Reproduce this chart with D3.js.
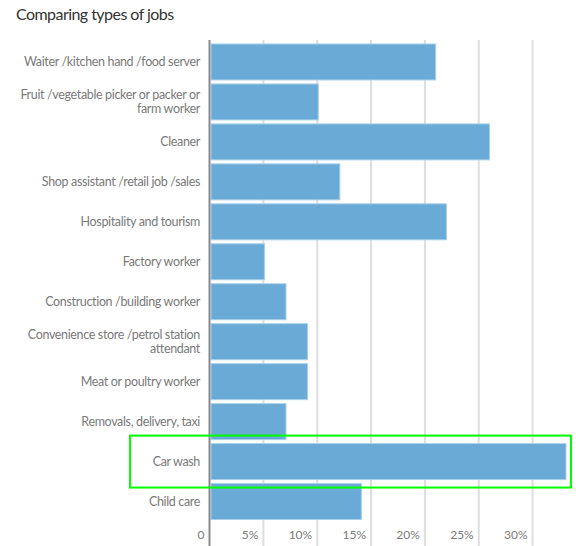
<!doctype html>
<html>
<head>
    <script src="https://d3js.org/d3.v7.min.js"></script>
    <style>
        body { margin: 0; background: #fff; }
        text { font-family: Lato, "Open Sans", sans-serif; }
        .bar { fill: #69abd6; stroke: #a8cfea; stroke-width: 1; }
        .label { fill: #7a7a7a; font-size: 12.5px; letter-spacing: -0.35px; }
        .tick-label { fill: #7a7a7a; font-size: 12px; }
        .grid { stroke: #dedede; stroke-width: 2; }
    </style>
</head>
<body>

    <svg width="579" height="546"></svg>

    <script>

        var jobs = [
            "Waiter /kitchen hand /food server",
            "Fruit /vegetable picker or packer or|farm worker",
            "Cleaner",
            "Shop assistant /retail job /sales",
            "Hospitality and tourism",
            "Factory worker",
            "Construction /building worker",
            "Convenience store /petrol station|attendant",
            "Meat or poultry worker",
            "Removals, delivery, taxi",
            "Car wash",
            "Child care"
        ];
        var percent = [21.0, 10.1, 26.0, 12.1, 22.0, 5.1, 7.1, 9.1, 9.1, 7.1, 33.1, 14.1];
        var tickValues = [0, 5, 10, 15, 20, 25, 30];
        var highlighted = "Car wash";

        var svg = d3.select("svg");
        var plotLeft = 209.5, plotRight = 566, plotTop = 40, plotBottom = 546;

        svg.append("text")
            .attr("x", 16)
            .attr("y", 19.5)
            .attr("font-size", "16px")
            .attr("letter-spacing", "-0.55px")
            .attr("fill", "#333")
            .text("Comparing types of jobs");

        var x = d3.scaleLinear().domain([0, d3.max(percent)]).range([plotLeft, plotRight]);
        var y = d3.scaleBand().domain(jobs).range([plotTop, 523.5]).paddingInner(0.1).paddingOuter(0.1);

        // gridlines
        svg.selectAll(".grid")
            .data(tickValues.slice(1))
            .enter().append("line")
            .attr("class", "grid")
            .attr("x1", function(d) { return x(d); })
            .attr("x2", function(d) { return x(d); })
            .attr("y1", plotTop)
            .attr("y2", plotBottom);

        // tick labels, right-aligned just left of each gridline
        svg.selectAll(".tick-label")
            .data(tickValues)
            .enter().append("text")
            .attr("class", "tick-label")
            .attr("x", function(d) { return x(d) - 5; })
            .attr("y", 539)
            .attr("text-anchor", "end")
            .text(function(d) { return d === 0 ? "0" : d + "%"; });

        svg.selectAll(".bar")
            .data(jobs)
            .enter().append("rect")
            .attr("class", "bar")
            .attr("x", x(0) + 1.5)
            .attr("y", function(d) { return y(d); })
            .attr("width", function(d, i) { return x(percent[i]) - x(0) - 1.5; })
            .attr("height", y.bandwidth());

        // category labels, wrapped on "|"
        var labels = svg.selectAll(".label")
            .data(jobs)
            .enter().append("text")
            .attr("class", "label")
            .attr("text-anchor", "end")
            .attr("transform", function(d) {
                var lines = d.split("|").length;
                var cy = y(d) + y.bandwidth() / 2 - (lines - 1) * 7 + 4.5;
                return "translate(200," + cy + ")";
            });

        labels.selectAll("tspan")
            .data(function(d) { return d.split("|"); })
            .enter().append("tspan")
            .attr("x", 0)
            .attr("dy", function(d, i) { return i === 0 ? 0 : 14; })
            .text(function(d) { return d; });

        // axis line
        svg.append("line")
            .attr("x1", x(0))
            .attr("x2", x(0))
            .attr("y1", plotTop)
            .attr("y2", plotBottom)
            .attr("stroke", "#8a8a8a")
            .attr("stroke-width", 2);

        // highlight box round the car wash row
        svg.append("rect")
            .attr("x", 130)
            .attr("y", y(highlighted) - 8)
            .attr("width", 571 - 130)
            .attr("height", y.bandwidth() + 16)
            .attr("fill", "none")
            .attr("stroke", "#00ff00")
            .attr("stroke-width", 2);

    </script>
</body>
</html>
